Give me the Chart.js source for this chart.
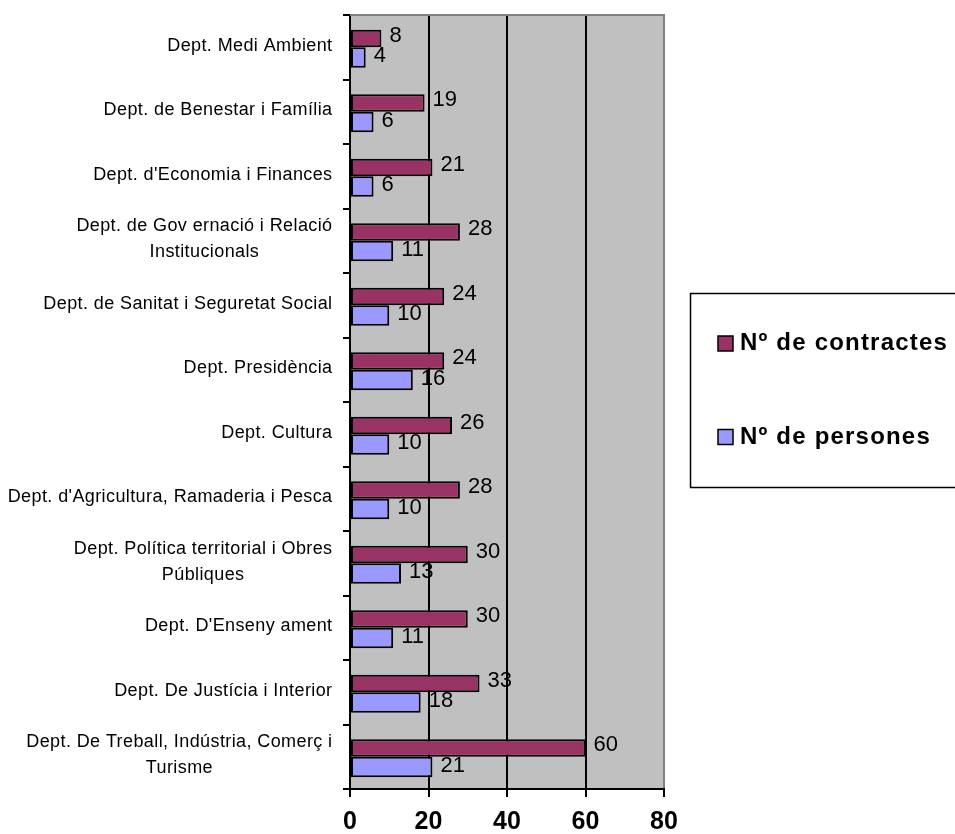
<!DOCTYPE html>
<html>
<head>
<meta charset="utf-8">
<title>Contractes i persones per departament</title>
<script src="https://cdn.jsdelivr.net/npm/chart.js@4.4.1/dist/chart.umd.min.js"></script>
<style>
  html, body { margin: 0; padding: 0; background: #ffffff; }
  canvas { display: block; }
</style>
</head>
<body>
<canvas id="chart" width="955" height="834"></canvas>
<script>
// Departments, top to bottom; multi-line names are split into rows
const departments = [
  ['Dept. Medi Ambient'],
  ['Dept. de Benestar i Família'],
  ["Dept. d'Economia i Finances"],
  ['Dept. de Gov ernació i Relació', 'Institucionals'],
  ['Dept. de Sanitat i Seguretat Social'],
  ['Dept. Presidència'],
  ['Dept. Cultura'],
  ["Dept. d'Agricultura, Ramaderia i Pesca"],
  ['Dept. Política territorial i Obres', 'Públiques'],
  ["Dept. D'Enseny ament"],
  ['Dept. De Justícia i Interior'],
  ['Dept. De Treball, Indústria, Comerç i', 'Turisme']
];
const contractes = [8, 19, 21, 28, 24, 24, 26, 28, 30, 30, 33, 60];
const persones   = [4, 6, 6, 11, 10, 16, 10, 10, 13, 11, 18, 21];
const seriesNames = ['Nº de contractes', 'Nº de persones'];
const xMin = 0, xMax = 80, xStep = 20;

const FONT = '"Liberation Sans", Arial, Helvetica, sans-serif';
Chart.defaults.font.family = FONT;

// Grey plot background plus the grey top edge of the frame
const plotFrame = {
  id: 'plotFrame',
  beforeDraw(chart) {
    const { ctx, chartArea: a } = chart;
    ctx.save();
    ctx.fillStyle = '#c0c0c0';
    ctx.fillRect(a.left, a.top, a.right - a.left, a.bottom - a.top);
    ctx.restore();
  },
  beforeDatasetsDraw(chart) {
    const { ctx, chartArea: a } = chart;
    ctx.save();
    ctx.strokeStyle = '#808080';
    ctx.lineWidth = 2;
    ctx.beginPath();
    ctx.moveTo(a.left, a.top);
    ctx.lineTo(a.right + 1, a.top);
    ctx.stroke();
    ctx.restore();
  }
};

// Value printed just past the end of every bar
const valueLabels = {
  id: 'valueLabels',
  afterDatasetsDraw(chart) {
    const { ctx } = chart;
    ctx.save();
    ctx.font = '22px ' + FONT;
    ctx.fillStyle = '#000';
    ctx.textAlign = 'left';
    ctx.textBaseline = 'middle';
    chart.data.datasets.forEach((ds, di) => {
      const meta = chart.getDatasetMeta(di);
      const lift = di === 0 ? 2.7 : 1.5;
      meta.data.forEach((bar, i) => {
        ctx.fillText(String(ds.data[i]), bar.x + 8, bar.y - lift);
      });
    });
    ctx.restore();
  }
};

// Category names: each block right-aligned to the axis, rows centred within the block
const categoryLabels = {
  id: 'categoryLabels',
  afterDraw(chart) {
    const { ctx } = chart;
    const y = chart.scales.y;
    ctx.save();
    ctx.font = '18px ' + FONT;
    ctx.letterSpacing = '0.4px';
    ctx.fillStyle = '#000';
    ctx.textAlign = 'center';
    ctx.textBaseline = 'middle';
    const right = y.right - 17.5;
    const lineGap = 25.7;
    chart.data.labels.forEach((rows, i) => {
      const cy = y.getPixelForValue(i) - 1.5;
      const w = Math.max(...rows.map(r => ctx.measureText(r).width));
      const cx = right - w / 2;
      rows.forEach((r, j) => {
        ctx.fillText(r, cx, cy + (j - (rows.length - 1) / 2) * lineGap);
      });
    });
    ctx.restore();
  }
};

// Boxed legend on the right
const boxLegend = {
  id: 'boxLegend',
  afterDraw(chart) {
    const { ctx } = chart;
    ctx.save();
    ctx.strokeStyle = '#000';
    ctx.lineWidth = 1.5;
    ctx.strokeRect(690.5, 293.5, 280, 194);
    ctx.font = 'bold 24px ' + FONT;
    ctx.letterSpacing = '1.2px';
    ctx.textAlign = 'left';
    ctx.textBaseline = 'middle';
    const rowsY = [343.5, 437];
    chart.data.datasets.forEach((ds, i) => {
      const cy = rowsY[i];
      ctx.fillStyle = ds.backgroundColor;
      ctx.fillRect(718, cy - 7.5, 15, 15);
      ctx.lineWidth = 1.5;
      ctx.strokeStyle = '#000';
      ctx.strokeRect(718, cy - 7.5, 15, 15);
      ctx.fillStyle = '#000';
      ctx.fillText(ds.label, 740, cy);
    });
    ctx.restore();
  }
};

new Chart(document.getElementById('chart'), {
  type: 'bar',
  data: {
    labels: departments,
    datasets: [
      {
        label: seriesNames[0],
        data: contractes,
        backgroundColor: '#993366',
        borderColor: '#000',
        borderWidth: 2,
        borderSkipped: false,
        categoryPercentage: 0.543,
        barPercentage: 1
      },
      {
        label: seriesNames[1],
        data: persones,
        backgroundColor: '#9999ff',
        borderColor: '#000',
        borderWidth: 2,
        borderSkipped: false,
        categoryPercentage: 0.636,
        barPercentage: 1
      }
    ]
  },
  options: {
    indexAxis: 'y',
    responsive: false,
    animation: false,
    devicePixelRatio: 1,
    layout: { padding: { left: 0, right: 291, top: 15, bottom: 0 } },
    plugins: {
      legend: { display: false },
      tooltip: { enabled: false }
    },
    scales: {
      x: {
        type: 'linear',
        position: 'bottom',
        min: xMin,
        max: xMax,
        afterFit(s) { s.height = 45; },
        ticks: {
          stepSize: xStep,
          color: '#000',
          padding: 10,
          font: { size: 25, weight: 'bold', lineHeight: 1.2 }
        },
        grid: {
          color: c => (c.tick && c.tick.value === xMax) ? '#808080' : '#000',
          tickColor: '#000',
          lineWidth: 2,
          tickLength: 8
        },
        border: { color: '#000', width: 2 }
      },
      y: {
        type: 'category',
        position: 'left',
        offset: true,
        afterFit(s) { s.width = 350; },
        ticks: { display: false },
        grid: {
          offset: true,
          drawOnChartArea: false,
          color: '#000',
          lineWidth: 2,
          tickLength: 7
        },
        border: { color: '#000', width: 2 }
      }
    }
  },
  plugins: [plotFrame, valueLabels, categoryLabels, boxLegend]
});
</script>
</body>
</html>
